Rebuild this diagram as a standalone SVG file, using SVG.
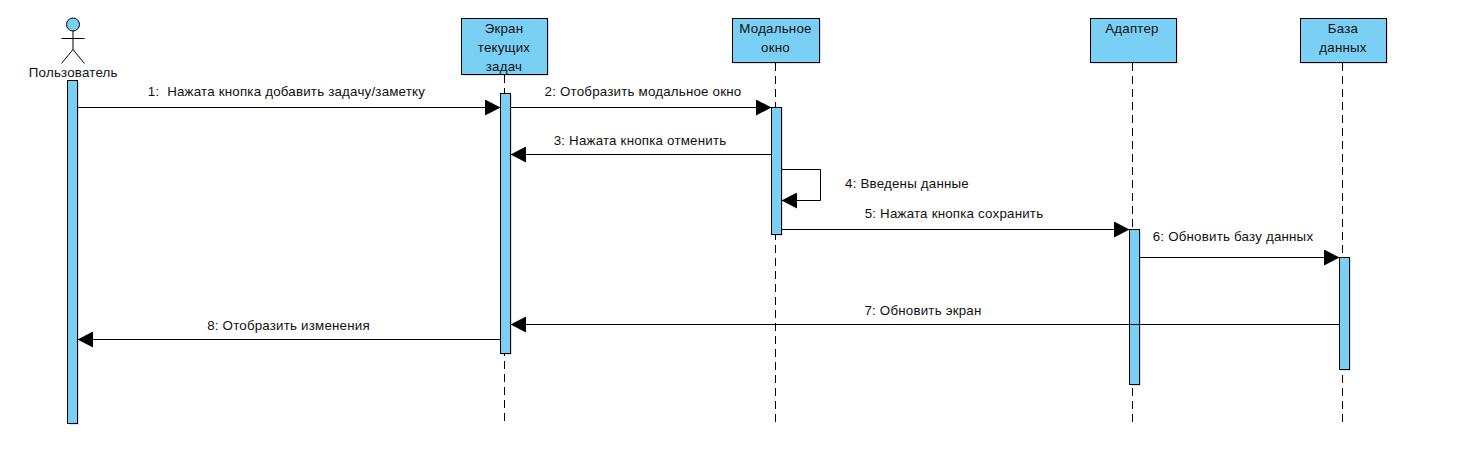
<svg xmlns="http://www.w3.org/2000/svg" width="1460" height="450" viewBox="0 0 1460 450">
<style>
text{font-family:"Liberation Sans",Arial,sans-serif;font-size:13.33px;letter-spacing:.2px;fill:#111;text-anchor:middle}
.box{fill:#7ACFF5;stroke:#000;stroke-width:1}
.life{fill:none;stroke:#000;stroke-width:1;stroke-dasharray:8 5}
.stick{fill:none;stroke:#000;stroke-width:1}
.msg{fill:none;stroke:#000;stroke-width:1;marker-end:url(#arrow)}
.shadow{fill:#000;opacity:.12}
</style>
<defs>
<marker id="arrow" markerUnits="userSpaceOnUse" markerWidth="16" markerHeight="16" refX="15.5" refY="8" orient="auto"><path d="M0 0L15.5 8L0 16Z" fill="#000"/></marker>
</defs>
<rect width="1460" height="450" fill="#fff"/>
<g id="actor-user">
<circle class="box" cx="73" cy="24.5" r="6.5"/>
<path class="stick" d="M73 31V49.5M61.5 38.5H84.5M61.5 63.5L73 49.5L84.5 63.5"/>
<text x="73.3" y="76.5">Пользователь</text>
<rect class="shadow" x="69" y="82" width="10" height="343"/>
<rect class="box" x="67.5" y="80.5" width="10" height="343"/>
</g>
<g id="lifeline-screen">
<line class="life" x1="504.5" y1="75" x2="504.5" y2="425"/>
<rect class="shadow" x="463" y="20" width="86" height="56"/>
<rect class="box" x="461.5" y="18.5" width="86" height="56"/>
<text x="504" y="33">Экран</text>
<text x="504" y="52">текущих</text>
<text x="504" y="71">задач</text>
<rect class="shadow" x="502" y="95" width="10" height="260"/>
<rect class="box" x="500.5" y="93.5" width="10" height="260"/>
</g>
<g id="lifeline-modal">
<line class="life" x1="775.5" y1="63" x2="775.5" y2="425"/>
<rect class="shadow" x="734" y="20" width="87" height="44"/>
<rect class="box" x="732.5" y="18.5" width="87" height="44"/>
<text x="775.5" y="33">Модальное</text>
<text x="775.5" y="52">окно</text>
<rect class="shadow" x="773" y="109" width="10" height="127"/>
<rect class="box" x="771.5" y="107.5" width="10" height="127"/>
</g>
<g id="lifeline-adapter">
<line class="life" x1="1132.5" y1="63" x2="1132.5" y2="425"/>
<rect class="shadow" x="1092" y="20" width="86" height="44"/>
<rect class="box" x="1090.5" y="18.5" width="86" height="44"/>
<text x="1132" y="33">Адаптер</text>
<rect class="shadow" x="1131" y="231" width="10" height="155"/>
<rect class="box" x="1129.5" y="229.5" width="10" height="155"/>
</g>
<g id="lifeline-db">
<line class="life" x1="1342.5" y1="63" x2="1342.5" y2="425"/>
<rect class="shadow" x="1302" y="20" width="86" height="44"/>
<rect class="box" x="1300.5" y="18.5" width="86" height="44"/>
<text x="1343" y="33">База</text>
<text x="1343" y="52">данных</text>
<rect class="shadow" x="1341" y="259" width="10" height="112"/>
<rect class="box" x="1339.5" y="257.5" width="10" height="112"/>
</g>
<g id="connectors">
<line class="msg" x1="77.5" y1="107.5" x2="500.5" y2="107.5"/>
<line class="msg" x1="510.5" y1="107.5" x2="771.5" y2="107.5"/>
<line class="msg" x1="771.5" y1="154.5" x2="510.5" y2="154.5"/>
<path class="msg" d="M781.5 169.5H820.5V200.5H781.5"/>
<line class="msg" x1="781.5" y1="229.5" x2="1129.5" y2="229.5"/>
<line class="msg" x1="1139.5" y1="257.5" x2="1339.5" y2="257.5"/>
<line class="msg" x1="1339.5" y1="324.5" x2="510.5" y2="324.5"/>
<line class="msg" x1="500.5" y1="339.5" x2="77.5" y2="339.5"/>
<text x="286.5" y="96" xml:space="preserve">1:  Нажата кнопка добавить задачу/заметку</text>
<text x="643" y="96">2: Отобразить модальное окно</text>
<text x="640" y="145">3: Нажата кнопка отменить</text>
<text x="907" y="187.5">4: Введены данные</text>
<text x="954" y="218">5: Нажата кнопка сохранить</text>
<text x="1233" y="241">6: Обновить базу данных</text>
<text x="923" y="315">7: Обновить экран</text>
<text x="288.5" y="330">8: Отобразить изменения</text>
</g>
</svg>
